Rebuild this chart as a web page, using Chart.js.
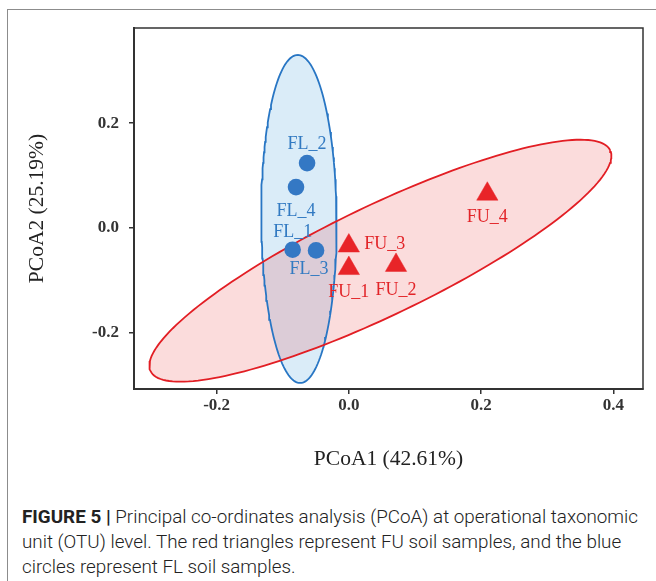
<!DOCTYPE html>
<html>
<head>
<meta charset="utf-8">
<script src="https://cdn.jsdelivr.net/npm/chart.js@4.4.1/dist/chart.umd.min.js"></script>
<style>
  html, body { margin: 0; padding: 0; background: #fff; }
  body { width: 656px; height: 581px; position: relative; overflow: hidden; }
  #frame { position: absolute; left: 7px; top: 9px; width: 700px; height: 620px;
           border-left: 1.5px solid #8c8c8c; border-top: 1.5px solid #8c8c8c; }
  #pcoa { position: absolute; left: 0; top: 0; }
  #caption { position: absolute; left: 22px; top: 504px; font-family: Roboto, "Liberation Sans", sans-serif;
             font-weight: 300; font-size: 18px; line-height: 25px; color: #222; white-space: nowrap;
             transform-origin: 0 0; }
  #caption b { font-weight: 700; }
</style>
</head>
<body>
<div id="frame"></div>
<canvas id="pcoa" width="656" height="480"></canvas>
<div id="caption"><span id="cap1"><b>FIGURE 5 |</b> Principal co-ordinates analysis (PCoA) at operational taxonomic</span><br>unit (OTU) level. The red triangles represent FU soil samples, and the blue<br>circles represent FL soil samples.</div>
<script>
// Amostras FL (círculos azuis)
const flLabels = ['FL_1', 'FL_2', 'FL_3', 'FL_4'];
const flX = [-0.085, -0.0632, -0.0496, -0.0799];
const flY = [-0.0413, 0.1238, -0.0427, 0.0781];

// Amostras FU (triângulos vermelhos)
const fuLabels = ['FU_1', 'FU_2', 'FU_3', 'FU_4'];
const fuX = [0.0, 0.0714, 0.0, 0.2095];
const fuY = [-0.077, -0.071, -0.034, 0.0648];

// Elipses de confiança: centro e semi-eixos (unidades dos dados)
const flEllipseCenter = [-0.0755, 0.0173];
const flEllipseAxisA = [-0.0018, 0.3128];
const flEllipseAxisB = [0.057, 0.0];
const fuEllipseCenter = [0.0477, -0.0623];
const fuEllipseAxisA = [0.3476, 0.2107];
const fuEllipseAxisB = [-0.036, 0.0941];

// Eixos
const xTicks = [-0.2, 0.0, 0.2, 0.4];
const yTicks = [-0.2, 0.0, 0.2];
const xRange = [-0.325, 0.445];
const yRange = [-0.307, 0.3815];

// Posição dos rótulos (px, relativo ao ponto)
const flLabelOffsets = [[0, -17], [0, -19], [-7, 19], [0, 24]];
const fuLabelOffsets = [[0, 24], [0, 25], [36, -2], [0, 23]];

const BLUE = 'rgb(52,120,196)';
const RED = 'rgb(232,36,40)';

function toPoints(xs, ys) {
    return xs.map((x, i) => ({ x: x, y: ys[i] }));
}

function ellipsePoints(c, a, b) {
    const pts = [];
    const n = 180;
    for (let i = 0; i <= n; i++) {
        const t = i / n * Math.PI * 2;
        pts.push({
            x: c[0] + a[0] * Math.cos(t) + b[0] * Math.sin(t),
            y: c[1] + a[1] * Math.cos(t) + b[1] * Math.sin(t)
        });
    }
    return pts;
}

// Rótulos das amostras
const sampleLabels = {
    id: 'sampleLabels',
    afterDatasetsDraw(chart) {
        const ctx = chart.ctx;
        ctx.save();
        ctx.font = '18px "Liberation Serif", serif';
        ctx.textAlign = 'center';
        ctx.textBaseline = 'middle';
        [[0, flLabels, flLabelOffsets, 'rgb(50,122,194)'], [1, fuLabels, fuLabelOffsets, 'rgb(226,36,40)']]
            .forEach(([idx, labels, offs, color]) => {
                const meta = chart.getDatasetMeta(idx);
                ctx.fillStyle = color;
                meta.data.forEach((pt, i) => {
                    ctx.fillText(labels[i], pt.x + offs[i][0], pt.y + offs[i][1]);
                });
            });
        ctx.restore();
    }
};

// Moldura do gráfico
const plotBox = {
    id: 'plotBox',
    afterDraw(chart) {
        const { ctx, chartArea: a } = chart;
        ctx.save();
        ctx.strokeStyle = '#333';
        ctx.lineWidth = 1.5;
        ctx.strokeRect(a.left, a.top, a.right - a.left, a.bottom - a.top);
        ctx.restore();
    }
};

const tickFont = { family: '"Liberation Serif", serif', size: 17, weight: 'bold' };
const titleFont = { family: '"Liberation Serif", serif', size: 21.5 };
const fmt = v => Math.abs(v) < 1e-9 ? '0.0' : v.toFixed(1);

new Chart(document.getElementById('pcoa').getContext('2d'), {
    type: 'scatter',
    data: {
        datasets: [
            {
                label: 'FL',
                data: toPoints(flX, flY),
                pointStyle: 'circle',
                pointRadius: 8.3,
                pointBackgroundColor: BLUE,
                pointBorderColor: BLUE,
                pointBorderWidth: 0
            },
            {
                label: 'FU',
                data: toPoints(fuX, fuY),
                pointStyle: 'triangle',
                pointRadius: 12.3,
                pointBackgroundColor: RED,
                pointBorderColor: RED,
                pointBorderWidth: 0.5
            },
            {
                type: 'line',
                label: 'FU ellipse',
                data: ellipsePoints(fuEllipseCenter, fuEllipseAxisA, fuEllipseAxisB),
                borderColor: 'rgb(226,30,36)',
                borderWidth: 1.8,
                backgroundColor: 'rgba(230,40,40,0.16)',
                fill: 'shape',
                pointRadius: 0,
                tension: 0
            },
            {
                type: 'line',
                label: 'FL ellipse',
                data: ellipsePoints(flEllipseCenter, flEllipseAxisA, flEllipseAxisB),
                borderColor: 'rgb(40,118,196)',
                borderWidth: 1.8,
                backgroundColor: 'rgba(120,185,230,0.27)',
                fill: 'shape',
                pointRadius: 0,
                tension: 0
            }
        ]
    },
    options: {
        responsive: false,
        animation: false,
        layout: { padding: { left: 0, top: 28, right: 13, bottom: 0 } },
        plugins: {
            legend: { display: false },
            tooltip: { enabled: false },
            filler: { drawTime: 'beforeDatasetsDraw' }
        },
        scales: {
            x: {
                type: 'linear',
                min: xRange[0],
                max: xRange[1],
                afterFit(s) { s.height = 91; },
                afterBuildTicks(s) { s.ticks = xTicks.map(v => ({ value: v })); },
                ticks: { font: tickFont, color: '#333', padding: 1, callback: fmt, maxRotation: 0 },
                grid: { drawOnChartArea: false, drawTicks: true, tickLength: 5, color: '#333', lineWidth: 1.5 },
                border: { display: true, color: '#333', width: 2 },
                title: { display: true, text: 'PCoA1 (42.61%)', font: titleFont, color: '#222', padding: { top: 0, bottom: 8 } }
            },
            y: {
                type: 'linear',
                min: yRange[0],
                max: yRange[1],
                afterFit(s) { s.width = 134; },
                afterBuildTicks(s) { s.ticks = yTicks.map(v => ({ value: v })); },
                ticks: { font: tickFont, color: '#333', padding: 10, callback: fmt },
                grid: { drawOnChartArea: false, drawTicks: true, tickLength: 5, color: '#333', lineWidth: 1.5 },
                border: { display: true, color: '#333', width: 2 },
                title: { display: true, text: 'PCoA2 (25.19%)', font: titleFont, color: '#222', padding: { top: 24, bottom: 0 } }
            }
        }
    },
    plugins: [sampleLabels, plotBox]
});

// Ajusta a largura da legenda à figura original
const cap = document.getElementById('caption');
const w = document.getElementById('cap1').getBoundingClientRect().width;
cap.style.transform = 'scaleX(' + (616 / w) + ')';
</script>
</body>
</html>
